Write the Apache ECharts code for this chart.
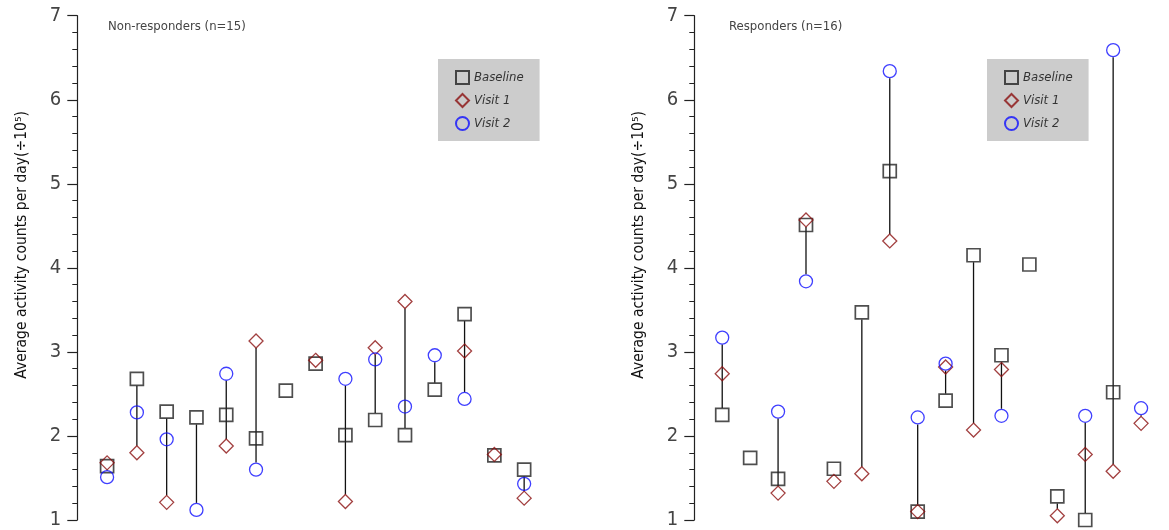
<!DOCTYPE html>
<html>
<head>
<meta charset="utf-8">
<script src="https://cdn.jsdelivr.net/npm/echarts@6/dist/echarts.min.js"></script>
<style>
html, body { margin: 0; padding: 0; background: #fff; }
#chart { width: 1169px; height: 530px; }
</style>
</head>
<body>
<div id="chart"></div>
<script>
// subject index along x (one column per patient)
const subjectsNR = [1, 2, 3, 4, 5, 6, 7, 8, 9, 10, 11, 12, 13, 14, 15];
const subjectsR = [1, 2, 3, 4, 5, 6, 7, 8, 9, 10, 11, 12, 13, 14, 15, 16];

// non-responders (n=15), counts ÷ 10^5, null = not measured
const baselineNR = [1.64, 2.68, 2.29, 2.22, 2.25, 1.97, 2.54, 2.86, 2.01, 2.19, 2.01, 2.55, 3.45, 1.77, 1.60];
const visit1NR = [1.68, 1.80, 1.21, null, 1.88, 3.13, null, 2.90, 1.22, 3.05, 3.60, null, 3.01, 1.78, 1.26];
const visit2NR = [1.51, 2.28, 1.96, 1.12, 2.74, 1.60, null, null, 2.68, 2.91, 2.35, 2.96, 2.44, null, 1.43];

// responders (n=16)
const baselineR = [2.25, 1.74, 1.49, 4.51, 1.61, 3.47, 5.15, 1.10, 2.42, 4.15, 2.96, 4.04, 1.28, 1.00, 2.52, null];
const visit1R = [2.74, null, 1.32, 4.57, 1.46, 1.55, 4.32, 1.10, 2.82, 2.07, 2.79, null, 1.05, 1.78, 1.58, 2.15];
const visit2R = [3.17, null, 2.29, 3.84, null, null, 6.34, 2.22, 2.86, null, 2.24, null, null, 2.24, 6.59, 2.33];

const yTicks = [1, 7];
const panelTitles = ['Non-responders (n=15)', 'Responders (n=16)'];
const yName = 'Average activity counts per day(÷10⁵)';

const FONT = '"Liberation Sans Narrow", "DejaVu Sans Condensed", sans-serif';
const STEP = 29.79;   // px per subject
const GAP = 7;        // line stops short of the end markers

function points(xs, ys) {
  return xs.map((x, i) => [x, ys[i]]).filter(p => p[1] != null);
}

function ranges(xs, a, b, c) {
  return xs.map((x, i) => {
    const v = [a[i], b[i], c[i]].filter(n => n != null);
    return v.length > 1 ? [x, Math.min(...v), Math.max(...v)] : null;
  }).filter(Boolean);
}

function renderRange(params, api) {
  const top = api.coord([api.value(0), api.value(2)]);
  const bot = api.coord([api.value(0), api.value(1)]);
  const y1 = top[1] + GAP;
  const y2 = bot[1] - GAP;
  if (y2 <= y1) return;
  return {
    type: 'line',
    shape: {x1: top[0], y1: y1, x2: top[0], y2: y2},
    style: {stroke: '#111', lineWidth: 1.3}
  };
}

const axisColor = '#222';

function yAxisFor(i) {
  return {
    gridIndex: i,
    type: 'value',
    min: yTicks[0],
    max: yTicks[1],
    interval: 1,
    axisLine: {show: true, lineStyle: {color: axisColor, width: 1.2}},
    axisTick: {show: true, inside: false, length: 10, lineStyle: {color: axisColor, width: 1.2}},
    minorTick: {show: true, splitNumber: 5, length: 5, lineStyle: {color: axisColor, width: 1}},
    splitLine: {show: false},
    axisLabel: {fontSize: 20, color: '#444', margin: 16, fontFamily: FONT},
    name: yName,
    nameLocation: 'middle',
    nameGap: 47,
    nameTextStyle: {fontSize: 15.5, color: '#111', fontFamily: FONT, padding: [0, 0, 0, 46]}
  };
}

function seriesFor(i, xs, base, v1, v2) {
  return [
    {
      type: 'custom',
      xAxisIndex: i, yAxisIndex: i,
      data: ranges(xs, base, v1, v2),
      encode: {x: 0, y: [1, 2]},
      renderItem: renderRange,
      silent: true,
      z: 1
    },
    {
      name: 'Baseline', type: 'scatter', xAxisIndex: i, yAxisIndex: i,
      symbol: 'rect', symbolSize: 13, clip: false,
      itemStyle: {color: 'rgba(0,0,0,0)', borderColor: '#222', borderWidth: 1.7},
      data: points(xs, base), z: 3
    },
    {
      name: 'Visit 1', type: 'scatter', xAxisIndex: i, yAxisIndex: i,
      symbol: 'diamond', symbolSize: 14, clip: false,
      itemStyle: {color: 'rgba(0,0,0,0)', borderColor: '#8b1010', borderWidth: 1.3},
      data: points(xs, v1), z: 3
    },
    {
      name: 'Visit 2', type: 'scatter', xAxisIndex: i, yAxisIndex: i,
      symbol: 'circle', symbolSize: 13, clip: false,
      itemStyle: {color: 'rgba(0,0,0,0)', borderColor: '#0f0fff', borderWidth: 1.3},
      data: points(xs, v2), z: 3
    }
  ];
}

function legendAt(left) {
  return {
    left: left, top: 59,
    orient: 'vertical',
    backgroundColor: '#cccccc',
    padding: [11, 16, 10, 17],
    itemGap: 8,
    itemWidth: 13, itemHeight: 13,
    data: ['Baseline', 'Visit 1', 'Visit 2'],
    textStyle: {fontSize: 13, fontStyle: 'italic', color: '#333', fontFamily: FONT}
  };
}

const chart = echarts.init(document.getElementById('chart'), null, {renderer: 'canvas'});

chart.setOption({
  animation: false,
  backgroundColor: '#fff',
  title: [
    {text: panelTitles[0], left: 108, top: 20, padding: 0,
     textStyle: {fontSize: 13, fontWeight: 'normal', color: '#444', fontFamily: FONT}},
    {text: panelTitles[1], left: 729, top: 20, padding: 0,
     textStyle: {fontSize: 13, fontWeight: 'normal', color: '#444', fontFamily: FONT}}
  ],
  legend: [legendAt(438), legendAt(987)],
  grid: [
    {left: 77.3, top: 15.7, width: STEP * 17, height: 506.6},
    {left: 694.3, top: 15.7, width: STEP * 17, height: 506.6}
  ],
  xAxis: [
    {gridIndex: 0, type: 'value', min: 0, max: 17, show: false},
    {gridIndex: 1, type: 'value', min: 0, max: 17, show: false}
  ],
  yAxis: [yAxisFor(0), yAxisFor(1)],
  series: [
    ...seriesFor(0, subjectsNR, baselineNR, visit1NR, visit2NR),
    ...seriesFor(1, subjectsR, baselineR, visit1R, visit2R)
  ]
});
</script>
</body>
</html>
